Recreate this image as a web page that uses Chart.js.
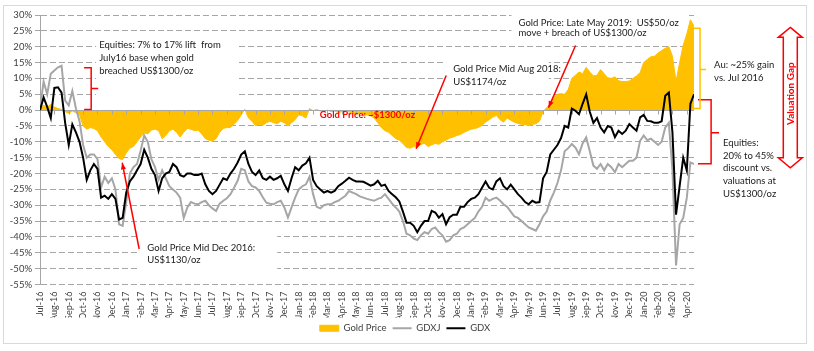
<!DOCTYPE html>
<html>
<head>
<meta charset="utf-8">
<script src="https://cdn.jsdelivr.net/npm/chart.js@4.4.1/dist/chart.umd.min.js"></script>
<style>
  html, body { margin: 0; padding: 0; background: #fff; }
  #wrap { position: relative; width: 814px; height: 351px; }
  #frame { position: absolute; left: 3px; top: 5px; width: 802px; height: 337px; border: 1px solid #d9d9d9; pointer-events: none; }
</style>
</head>
<body>
<div id="wrap">
  <canvas id="goldChart" width="814" height="351"></canvas>
  <div id="frame"></div>
</div>
<script>
// month tick labels (one per month, Jul-16 .. Apr-20)
const monthLabels = ['Jul-16','Aug-16','Sep-16','Oct-16','Nov-16','Dec-16',
  'Jan-17','Feb-17','Mar-17','Apr-17','May-17','Jun-17','Jul-17','Aug-17','Sep-17','Oct-17','Nov-17','Dec-17',
  'Jan-18','Feb-18','Mar-18','Apr-18','May-18','Jun-18','Jul-18','Aug-18','Sep-18','Oct-18','Nov-18','Dec-18',
  'Jan-19','Feb-19','Mar-19','Apr-19','May-19','Jun-19','Jul-19','Aug-19','Sep-19','Oct-19','Nov-19','Dec-19',
  'Jan-20','Feb-20','Mar-20','Apr-20'];

// weekly readings, % (4 per month starting Jul-16)
const weekStep = 0.25;

// gold price vs US$1300/oz
const goldPrice = [0.5,1.5,1.0,1.8,1.0,0.5,0.2,-0.5,-1.0,-0.3,
  -0.8,-1.5,-5.0,-6.0,-5.5,-5.8,-6.5,-8.5,-10.0,-11.5,
  -12.5,-14.0,-15.3,-15.6,-13.5,-12.0,-11.5,-10.0,-8.5,-7.2,
  -7.5,-6.3,-6.0,-6.5,-9.0,-8.0,-6.5,-6.0,-7.0,-8.5,
  -7.0,-5.8,-6.0,-6.5,-6.3,-7.5,-9.0,-9.5,-9.8,-9.0,
  -7.0,-5.8,-5.5,-5.5,-4.5,-3.3,-1.5,0.3,-2.5,-3.5,
  -4.9,-4.5,-4.8,-4.0,-3.5,-4.0,-4.3,-3.5,-4.0,-5.0,
  -4.0,-3.0,-1.5,-1.8,-2.5,0.5,-0.2,0.2,-0.3,-0.5,
  0.0,-0.5,-0.3,-0.8,-0.5,-0.2,-0.6,-1.0,-1.5,-1.0,
  -1.8,-1.5,-1.8,-2.5,-4.0,-5.5,-6.5,-7.0,-8.0,-9.0,
  -9.5,-10.5,-11.8,-12.0,-11.5,-11.8,-10.8,-10.5,-11.5,-11.0,
  -10.5,-10.8,-10.0,-9.5,-8.8,-8.5,-8.0,-7.7,-7.0,-6.5,
  -6.0,-5.8,-5.5,-4.8,-3.8,-3.0,-2.2,-1.7,-3.0,-3.8,
  -2.5,-3.2,-3.8,-4.2,-4.5,-4.6,-4.9,-4.5,-4.3,-3.5,
  -0.5,0.8,1.8,4.0,5.0,5.2,5.0,6.5,10.0,11.0,
  12.0,11.5,13.5,12.0,10.8,11.0,12.8,11.5,10.2,10.0,
  10.5,9.3,9.0,9.0,9.2,10.0,10.8,11.8,15.0,16.0,
  16.8,17.0,18.0,18.8,19.5,20.0,17.0,9.0,15.0,20.5,
  24.0,28.5,26.5];

// GDXJ vs Jul-16 base
const gdxj = [0.5,9.0,5.0,11.5,12.5,13.5,14.0,3.0,1.5,6.0,
  0.5,-3.5,-11.0,-15.0,-14.0,-14.0,-15.5,-24.4,-21.0,-23.0,
  -21.5,-25.0,-36.0,-36.5,-29.0,-20.0,-18.0,-17.0,-12.8,-8.0,
  -10.0,-15.5,-18.0,-22.0,-19.0,-21.5,-24.0,-25.0,-26.0,-27.6,
  -34.0,-30.7,-29.0,-29.5,-29.7,-29.0,-28.6,-30.0,-31.0,-31.8,
  -29.5,-28.6,-27.8,-26.5,-24.5,-22.3,-18.5,-19.0,-22.5,-24.0,
  -24.4,-25.5,-27.5,-29.2,-29.5,-29.7,-29.0,-28.6,-30.7,-33.9,
  -30.7,-27.6,-25.0,-24.0,-23.4,-21.0,-26.5,-30.5,-31.0,-30.0,
  -29.7,-29.7,-29.0,-28.6,-27.8,-27.0,-25.5,-26.0,-26.5,-27.2,
  -27.6,-28.0,-28.3,-28.6,-28.0,-27.6,-26.5,-28.0,-29.5,-30.7,
  -32.0,-35.0,-39.0,-39.5,-40.5,-41.0,-39.5,-38.5,-39.0,-37.5,
  -37.0,-38.5,-39.5,-41.5,-41.0,-39.5,-39.0,-37.5,-37.0,-36.0,
  -35.0,-34.0,-32.0,-30.5,-27.6,-28.6,-28.0,-27.6,-28.5,-29.7,
  -30.5,-32.0,-33.5,-34.0,-35.0,-36.0,-37.0,-37.5,-38.0,-36.0,
  -33.5,-32.0,-28.5,-26.0,-23.0,-19.0,-13.0,-12.0,-10.7,-11.8,
  -13.9,-10.5,-8.6,-13.0,-17.5,-18.5,-17.0,-19.0,-17.0,-18.0,
  -19.6,-17.0,-18.0,-17.0,-16.0,-16.0,-15.0,-9.7,-8.0,-9.5,
  -9.0,-10.0,-11.0,-10.0,-5.5,-4.0,-19.0,-49.0,-36.0,-34.0,
  -27.6,-16.5,-17.0];

// GDX vs Jul-16 base
const gdx = [0.0,4.0,1.0,-2.5,7.0,7.2,5.5,-4.0,-11.0,-4.5,
  -7.0,-10.0,-15.0,-22.0,-19.0,-17.0,-18.5,-27.6,-27.0,-28.0,
  -26.5,-28.0,-34.5,-34.0,-26.0,-22.5,-21.0,-19.0,-17.0,-12.5,
  -15.0,-18.5,-20.5,-25.5,-21.5,-20.0,-19.5,-17.0,-18.0,-20.5,
  -21.0,-20.0,-20.0,-20.5,-20.5,-20.0,-23.4,-25.5,-26.5,-25.5,
  -23.5,-21.5,-22.0,-20.0,-18.5,-16.5,-14.0,-13.0,-17.0,-19.5,
  -20.5,-19.0,-21.5,-22.0,-21.0,-22.0,-21.5,-20.7,-23.4,-25.5,
  -21.5,-18.0,-19.0,-17.5,-16.8,-15.0,-22.0,-24.0,-25.0,-26.0,
  -25.5,-26.0,-25.5,-24.0,-23.2,-22.3,-21.3,-22.0,-22.5,-22.5,
  -22.6,-23.2,-23.8,-23.4,-22.3,-23.9,-23.5,-25.5,-26.5,-27.5,
  -28.8,-32.0,-35.5,-35.5,-36.5,-38.5,-36.5,-35.0,-35.0,-31.8,
  -32.3,-33.9,-32.8,-36.0,-33.8,-33.0,-33.0,-30.5,-30.5,-29.0,
  -28.0,-27.6,-26.5,-24.5,-22.5,-24.5,-25.0,-22.5,-21.5,-24.0,
  -25.0,-23.5,-25.0,-26.5,-27.6,-29.0,-29.7,-28.6,-29.2,-29.0,
  -21.5,-19.5,-14.0,-12.5,-11.0,-8.8,-5.0,-5.5,0.5,-0.2,
  -1.3,2.0,5.0,-0.5,-4.0,-2.5,-5.5,-7.0,-5.0,-5.5,
  -8.5,-6.5,-7.5,-6.5,-4.4,-5.5,-6.5,-2.3,-1.5,-3.4,
  -3.5,-4.0,-4.0,-3.5,4.5,5.5,-7.0,-33.0,-24.0,-15.0,
  -19.0,2.0,5.0];

const toPoints = arr => arr.map((v, i) => ({ x: i * weekStep, y: v }));

const FONT = 'Lato';
const RED = '#ff0000';
const GOLD = '#ffc000';

// draw an arrow with a filled head at the end point
function drawArrow(ctx, x1, y1, x2, y2) {
  ctx.beginPath();
  ctx.moveTo(x1, y1);
  ctx.lineTo(x2, y2);
  ctx.stroke();
  const a = Math.atan2(y2 - y1, x2 - x1), h = 7;
  ctx.beginPath();
  ctx.moveTo(x2, y2);
  ctx.lineTo(x2 - h * Math.cos(a - 0.38), y2 - h * Math.sin(a - 0.38));
  ctx.lineTo(x2 - h * Math.cos(a + 0.38), y2 - h * Math.sin(a + 0.38));
  ctx.closePath();
  ctx.fill();
}

// square bracket with a pointer in the middle
function drawBrace(ctx, xLine, yTop, yBot, xEnd, yMid, xTip) {
  ctx.beginPath();
  ctx.moveTo(xEnd, yTop);
  ctx.lineTo(xLine, yTop);
  ctx.lineTo(xLine, yBot);
  ctx.lineTo(xEnd, yBot);
  ctx.moveTo(xLine, yMid);
  ctx.lineTo(xTip, yMid);
  ctx.stroke();
}

function drawLines(ctx, lines, x, yList) {
  lines.forEach((t, i) => ctx.fillText(t, x, yList[i]));
}

const annotations = {
  id: 'annotations',
  beforeDatasetsDraw(chart) {
    // label boxes hide the gridlines behind them
    const { ctx } = chart;
    const X = v => chart.scales.x.getPixelForValue(v);
    const Y = v => chart.scales.y.getPixelForValue(v);
    const boxes = [[3.9, 23, 13.75, 3], [6.9, -38, 16.5, -52.6], [28.05, 17.2, 35.4, 7.4], [32.8, 32, 45.1, 21.3]];
    ctx.save();
    ctx.fillStyle = '#ffffff';
    boxes.forEach(b => ctx.fillRect(X(b[0]), Y(b[1]), X(b[2]) - X(b[0]), Y(b[3]) - Y(b[1])));
    ctx.restore();
  },
  afterDatasetDraw(chart, args) {
    if (args.index !== 0) return;
    // horizontal axis line at 0% with monthly tick marks
    const { ctx, chartArea } = chart;
    const xs = chart.scales.x;
    const y0 = Math.round(chart.scales.y.getPixelForValue(0)) + 0.5;
    ctx.save();
    ctx.strokeStyle = '#a6a6a6';
    ctx.lineWidth = 1;
    ctx.beginPath();
    ctx.moveTo(chartArea.left, y0);
    ctx.lineTo(chartArea.right, y0);
    monthLabels.forEach((m, i) => {
      const x = Math.round(xs.getPixelForValue(i)) + 0.5;
      ctx.moveTo(x, y0);
      ctx.lineTo(x, y0 + 4);
    });
    ctx.stroke();
    ctx.restore();
  },
  afterDatasetsDraw(chart) {
    const { ctx } = chart;
    const X = v => chart.scales.x.getPixelForValue(v);
    const Y = v => chart.scales.y.getPixelForValue(v);
    ctx.save();
    ctx.textBaseline = 'middle';
    ctx.textAlign = 'left';

    // black comment text
    ctx.fillStyle = '#1a1a1a';
    ctx.font = `9.5px ${FONT}`;
    drawLines(ctx, ['Equities: 7% to 17% lift  from', 'July16 base when gold', 'breached US$1300/oz'], X(4.12), [Y(20.7), Y(16.6), Y(12.2)]);
    drawLines(ctx, ['Gold Price Mid Dec 2016:', 'US$1130/oz'], X(7.47), [Y(-43.4), Y(-47.2)]);
    drawLines(ctx, ['Gold Price Mid Aug 2018:', 'US$1174/oz'], X(28.75), [Y(13.1), Y(9.0)]);
    drawLines(ctx, ['Gold Price: Late May 2019:  US$50/oz', 'move + breach of US$1300/oz'], X(33.29), [Y(27.6), Y(24.2)]);
    drawLines(ctx, ['Au: ~25% gain', 'vs. Jul 2016'], X(46.9), [Y(14.4), Y(10.3)]);
    drawLines(ctx, ['Equities:', '20% to 45%', 'discount vs.', 'valuations at', 'US$1300/oz'], X(47.52),
      [Y(-10.3), Y(-14.4), Y(-18.2), Y(-22.3), Y(-26.4)]);

    // red label on the 0% line
    ctx.fillStyle = RED;
    ctx.font = `bold 9.5px ${FONT}`;
    ctx.fillText('Gold Price: ~$1300/oz', X(19.47), Y(-1.4));

    // arrows and brackets
    ctx.strokeStyle = RED;
    ctx.fillStyle = RED;
    ctx.lineWidth = 1.5;
    drawArrow(ctx, X(6.9), Y(-43.8), X(5.72), Y(-16.6));
    drawArrow(ctx, X(28.26), Y(10.9), X(26.17), Y(-12.2));
    drawArrow(ctx, X(37.26), Y(20.4), X(35.38), Y(0.8));
    drawBrace(ctx, X(3.56), Y(13.4), Y(0.2), X(3.07), Y(6.8), X(4.05));
    drawBrace(ctx, X(46.69), Y(3.3), Y(-16.9), X(45.78), Y(-7.1), X(47.24));
    ctx.strokeStyle = GOLD;
    drawBrace(ctx, X(45.92), Y(25.8), Y(0.5), X(45.43), Y(12.8), X(46.34));

    // valuation gap double arrow
    const cx = X(52.2), top = Y(26.1), bot = Y(-18.2);
    ctx.beginPath();
    ctx.moveTo(cx, top);
    ctx.lineTo(cx + 12, top + 10);
    ctx.lineTo(cx + 7, top + 10);
    ctx.lineTo(cx + 7, bot - 10);
    ctx.lineTo(cx + 12, bot - 10);
    ctx.lineTo(cx, bot);
    ctx.lineTo(cx - 12, bot - 10);
    ctx.lineTo(cx - 7, bot - 10);
    ctx.lineTo(cx - 7, top + 10);
    ctx.lineTo(cx - 12, top + 10);
    ctx.closePath();
    ctx.fillStyle = '#ffffff';
    ctx.fill();
    ctx.strokeStyle = RED;
    ctx.lineWidth = 1.5;
    ctx.stroke();
    ctx.translate(cx, Y(5.2));
    ctx.rotate(-Math.PI / 2);
    ctx.textAlign = 'center';
    ctx.fillStyle = RED;
    ctx.font = `bold 10px ${FONT}`;
    ctx.fillText('Valuation Gap', 0, 0);
    ctx.restore();
  }
};

Chart.defaults.font.family = FONT;
Chart.defaults.color = '#404040';

new Chart(document.getElementById('goldChart'), {
  type: 'line',
  data: {
    datasets: [
      {
        label: 'Gold Price',
        data: toPoints(goldPrice),
        fill: 'origin',
        backgroundColor: GOLD,
        borderColor: GOLD,
        borderWidth: 1,
        pointRadius: 0,
        pointStyle: 'rect',
        order: 3
      },
      {
        label: 'GDXJ',
        data: toPoints(gdxj),
        borderColor: '#a6a6a6',
        backgroundColor: '#a6a6a6',
        borderWidth: 2,
        pointRadius: 0,
        pointStyle: 'line',
        order: 2
      },
      {
        label: 'GDX',
        data: toPoints(gdx),
        borderColor: '#000000',
        backgroundColor: '#000000',
        borderWidth: 2,
        pointRadius: 0,
        pointStyle: 'line',
        order: 1
      }
    ]
  },
  options: {
    responsive: false,
    animation: false,
    layout: { padding: { left: 4, right: 8, top: 15, bottom: 8 } },
    scales: {
      x: {
        type: 'linear',
        min: 0,
        max: 45.5,
        grid: { display: false, drawTicks: false },
        border: { display: false },
        ticks: {
          stepSize: 1,
          autoSkip: false,
          includeBounds: false,
          maxRotation: 90,
          minRotation: 90,
          padding: 7,
          font: { size: 9 },
          callback: v => monthLabels[v]
        },
        afterFit: s => { s.height = 33; }
      },
      y: {
        min: -55,
        max: 30,
        grid: { color: '#a6a6a6', tickLength: 5, lineWidth: 1 },
        border: { display: true, color: '#a6a6a6', dash: [6, 3] },
        ticks: { stepSize: 5, padding: 3, font: { size: 9.5 }, callback: v => v + '%' },
        afterFit: s => { s.width = 36; }
      },
      yR: {
        position: 'right',
        grid: { display: false },
        border: { display: false },
        ticks: { display: false },
        afterFit: s => { s.width = 112; }
      }
    },
    plugins: {
      tooltip: { enabled: false },
      legend: {
        position: 'bottom',
        labels: {
          usePointStyle: true,
          pointStyleWidth: 19,
          boxHeight: 6,
          padding: 6,
          color: '#404040',
          font: { size: 9.5 },
          sort: (a, b) => a.datasetIndex - b.datasetIndex
        }
      }
    }
  },
  plugins: [annotations]
});
</script>
</body>
</html>
